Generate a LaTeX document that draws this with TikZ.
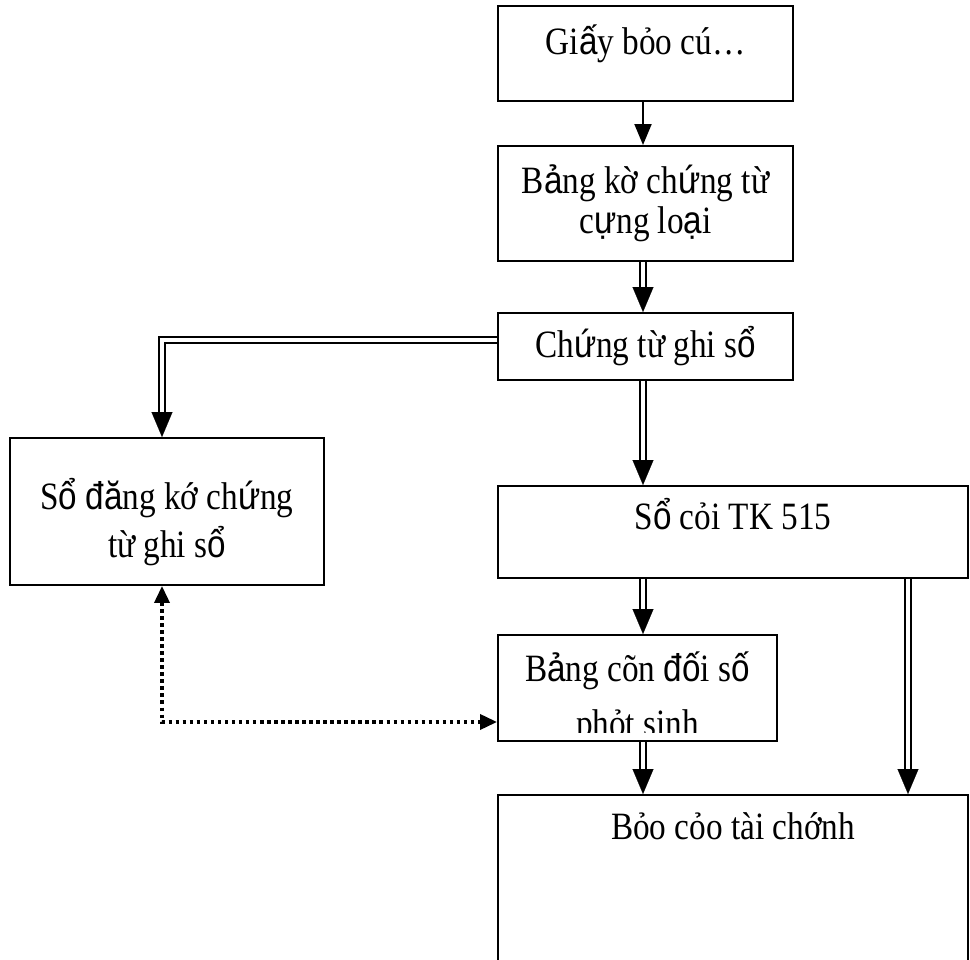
\documentclass[tikz,border=0pt]{standalone}
\usepackage{fontspec}
\setmainfont[FakeStretch=0.86]{Liberation Serif}
\newfontfamily\sansvn[FakeStretch=0.86]{Liberation Sans}
\newcommand{\fbk}[1]{{\sansvn #1}}
\usetikzlibrary{arrows.meta}
\tikzset{
  box/.style={draw, line width=1.1pt, rectangle, inner sep=0pt, align=center,
    font=\fontsize{22pt}{23pt}\selectfont},
  txt/.style={inner sep=0pt, font=\fontsize{22pt}{23pt}\selectfont},
  sgl/.style={line width=1.1pt, -{Triangle[length=0.42cm,width=0.34cm]}},
  dbl/.style={draw=white, line width=0.1pt,
    -{Triangle[length=0.5cm,width=0.42cm,color=black,fill=black]},
    preaction={draw=black, -, line width=1.3pt, double=white,
      double distance=1.9pt, shorten >=0.48cm}},
  dotarrow/.style={line width=2pt, dash pattern=on 2pt off 2pt,
    {Triangle[length=0.34cm,width=0.3cm]}-{Triangle[length=0.34cm,width=0.3cm]}},
}
\begin{document}
\begin{tikzpicture}
    \useasboundingbox (0,0) rectangle (19.4,19.2);
    \coordinate (spine) at (12.86,0);
    \coordinate (rspine) at (18.16,0);
    % boxes
    \node[box, minimum width=5.9cm, minimum height=1.9cm, text height=0.55cm, text depth=0.49cm]
        (giay) at (12.91,18.13) {Gi\fbk{ấ}y bỏo cú…};
    \node[box, minimum width=5.9cm, minimum height=2.3cm]
        (bangke) at (12.91,15.13) {B\fbk{ả}ng kờ ch\fbk{ứ}ng từ\\c\fbk{ự}ng lo\fbk{ạ}i};
    \node[box, minimum width=5.9cm, minimum height=1.34cm]
        (ctgs) at (12.91,12.27) {Ch\fbk{ứ}ng từ ghi s\fbk{ổ}};
    \node[box, minimum width=6.28cm, minimum height=2.94cm]
        (sodk) at (3.34,8.97) {\rule{0pt}{1.05cm}S\fbk{ổ} \fbk{đă}ng kớ ch\fbk{ứ}ng\\[0.15cm]từ ghi s\fbk{ổ}};
    \node[box, minimum width=9.4cm, minimum height=1.84cm, text height=0.5cm, text depth=0.58cm]
        (socai) at (14.66,8.56) {S\fbk{ổ} cỏi TK 515};
    \node[box, minimum width=5.58cm, minimum height=2.12cm,
        path picture={
          \clip ([yshift=0.16cm]path picture bounding box.south west) rectangle (path picture bounding box.north east);
          \node[txt, anchor=base] (bangcan1) at ([yshift=-0.94cm]path picture bounding box.north) {B\fbk{ả}ng cõn \fbk{đố}i s\fbk{ố}};
          \node[txt, anchor=base] (bangcan2) at ([yshift=-2.04cm]path picture bounding box.north) {phỏt sinh};
        }]
        (bangcan) at (12.75,5.44) {};
    \node[box, minimum width=9.4cm, minimum height=3.7cm, text height=0.5cm, text depth=2.4cm]
        (baocao) at (14.66,1.45) {Bỏo cỏo tài chớnh};
    % connectors
    \draw[sgl] (giay.south -| spine) -- (bangke.north -| spine);
    \draw[dbl] (bangke.south -| spine) -- (ctgs.north -| spine);
    \draw[dbl] (ctgs.south -| spine) -- (socai.north -| spine);
    \draw[dbl] ([yshift=0.13cm]ctgs.west) -| ([xshift=-0.1cm]sodk.north);
    \draw[dbl] (socai.south -| spine) -- (bangcan.north -| spine);
    \draw[dbl] (bangcan.south -| spine) -- (baocao.north -| spine);
    \draw[dbl] (socai.south -| rspine) -- (baocao.north -| rspine);
    \draw[dotarrow] ([xshift=-0.1cm]sodk.south) |- ([yshift=-0.68cm]bangcan.west);
\end{tikzpicture}
\end{document}
